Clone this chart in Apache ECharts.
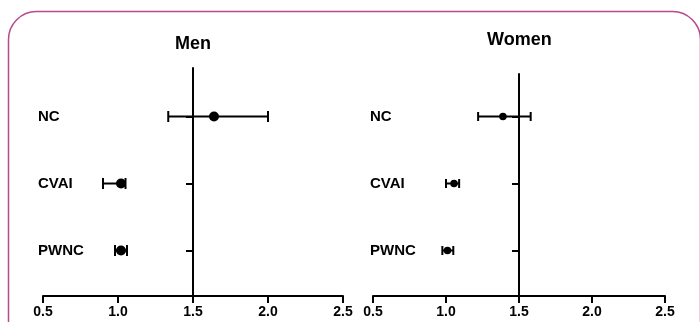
<!DOCTYPE html>
<html>
<head>
<meta charset="utf-8">
<script src="https://cdn.jsdelivr.net/npm/echarts@6/dist/echarts.min.js"></script>
<style>
html,body{margin:0;padding:0;background:#fff;}
#chart{width:700px;height:322px;}
</style>
</head>
<body>
<div id="chart"></div>
<script>
// ---- data ----
var categories = ['NC', 'CVAI', 'PWNC'];
var xTicks = [0.5, 1.0, 1.5, 2.0, 2.5];
var panelTitles = ['Men', 'Women'];
var menLow  = [1.335, 0.90, 0.98];
var menMid  = [1.64, 1.02, 1.02];
var menHigh = [2.00, 1.05, 1.06];
var womenLow  = [1.22, 1.00, 0.975];
var womenMid  = [1.39, 1.055, 1.01];
var womenHigh = [1.58, 1.09, 1.05];
var refValue = 1.5;

// ---- build ----
var FONT = '"Liberation Sans", Arial, Helvetica, sans-serif';
function rowY(i) { return categories.length - i; }
var catVals = categories.map(function (c, i) { return rowY(i); });
function labelFor(v) {
  var idx = categories.length - Math.round(v);
  return categories[idx] || '';
}
function barData(low, high) {
  return categories.map(function (c, i) { return [low[i], high[i], rowY(i)]; });
}
function dotData(mid) {
  return categories.map(function (c, i) { return [mid[i], rowY(i)]; });
}
function errRender(cap) {
  return function (params, api) {
    var y = api.value(2);
    var a = api.coord([api.value(0), y]);
    var b = api.coord([api.value(1), y]);
    var st = { stroke: '#000', lineWidth: 2 };
    return {
      type: 'group',
      children: [
        { type: 'line', shape: { x1: a[0], y1: a[1], x2: b[0], y2: b[1] }, style: st },
        { type: 'line', shape: { x1: a[0], y1: a[1] - cap, x2: a[0], y2: a[1] + cap }, style: st },
        { type: 'line', shape: { x1: b[0], y1: b[1] - cap, x2: b[0], y2: b[1] + cap }, style: st }
      ]
    };
  };
}

var grids = [
  { left: 43, top: 68, width: 300, height: 228 },
  { left: 373, top: 74, width: 292, height: 222 }
];
var yMin = 0.321;
var yMax = [3.724, 3.634];
var labelMargin = [5, 3];

var xAxes = [], yAxes = [];
grids.forEach(function (g, gi) {
  xAxes.push({
    type: 'value', gridIndex: gi, min: xTicks[0], max: xTicks[xTicks.length - 1], interval: 0.5,
    axisLine: { show: true, lineStyle: { color: '#000', width: 2 } },
    axisTick: { show: true, length: 7, lineStyle: { color: '#000', width: 2 } },
    axisLabel: { color: '#000', fontSize: 14, fontWeight: 'bold', fontFamily: FONT, margin: 9,
      formatter: function (v) { return v.toFixed(1); } },
    splitLine: { show: false }
  });
  // label axis
  yAxes.push({
    type: 'value', gridIndex: gi, min: yMin, max: yMax[gi], position: 'left',
    axisLine: { show: false }, axisTick: { show: false }, splitLine: { show: false },
    axisLabel: { customValues: catVals, formatter: labelFor, align: 'left', margin: labelMargin[gi],
      color: '#000', fontSize: 15, fontWeight: 'bold', fontFamily: FONT }
  });
  // reference line axis at x = 1.5
  var off = -(refValue - xTicks[0]) / (xTicks[xTicks.length - 1] - xTicks[0]) * g.width;
  yAxes.push({
    type: 'value', gridIndex: gi, min: yMin, max: yMax[gi], position: 'left', offset: off,
    axisLine: { show: true, lineStyle: { color: '#000', width: 2 } },
    axisTick: { show: true, customValues: catVals, length: 7, lineStyle: { color: '#000', width: 2 } },
    axisLabel: { show: false }, splitLine: { show: false }
  });
});

var series = [
  { type: 'custom', xAxisIndex: 0, yAxisIndex: 0, renderItem: errRender(5.5),
    encode: { x: [0, 1], y: 2 }, data: barData(menLow, menHigh), z: 3 },
  { type: 'scatter', xAxisIndex: 0, yAxisIndex: 0, symbolSize: 10,
    itemStyle: { color: '#000', opacity: 1 }, data: dotData(menMid), z: 4 },
  { type: 'custom', xAxisIndex: 1, yAxisIndex: 2, renderItem: errRender(4.5),
    encode: { x: [0, 1], y: 2 }, data: barData(womenLow, womenHigh), z: 3 },
  { type: 'scatter', xAxisIndex: 1, yAxisIndex: 2, symbolSize: 7.5,
    itemStyle: { color: '#000', opacity: 1 }, data: dotData(womenMid), z: 4 }
];

var chart = echarts.init(document.getElementById('chart'), null, { renderer: 'canvas' });
chart.setOption({
  animation: false,
  backgroundColor: '#fff',
  title: [
    { text: panelTitles[0], left: 175, top: 35, padding: 0,
      textStyle: { fontSize: 18, fontWeight: 'bold', color: '#000', fontFamily: FONT } },
    { text: panelTitles[1], left: 487, top: 31, padding: 0,
      textStyle: { fontSize: 18, fontWeight: 'bold', color: '#000', fontFamily: FONT } }
  ],
  graphic: [
    { type: 'rect', left: 6, top: 9, z: -1, silent: true,
      shape: { x: 0, y: 0, width: 692, height: 340, r: [28, 28, 0, 0] },
      style: { fill: 'none', stroke: '#b94a8c', lineWidth: 1.5 } }
  ],
  grid: grids,
  xAxis: xAxes,
  yAxis: yAxes,
  series: series
});
</script>
</body>
</html>
